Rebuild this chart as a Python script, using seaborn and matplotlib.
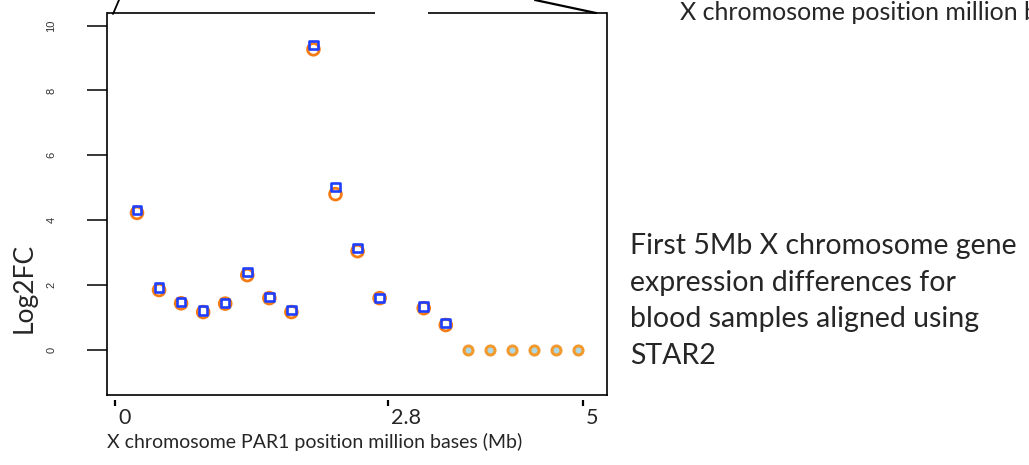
"""
PAR1 Log2FC scatter: first 5Mb of X chromosome, blood samples (STAR2).
"""
import numpy as np
import pandas as pd
import matplotlib
matplotlib.use("Agg")
import matplotlib.pyplot as plt
import matplotlib.transforms as mtransforms
from matplotlib.lines import Line2D
import seaborn as sns

# gene index along PAR1 (index 13 has no value)
gene_idx = [1, 2, 3, 4, 5, 6, 7, 8, 9, 10, 11, 12, 14, 15]
log2fc_a = [4.22, 1.84, 1.43, 1.16, 1.42, 2.30, 1.59, 1.16, 9.27, 4.80, 3.04, 1.59, 1.28, 0.76]
log2fc_b = [4.31, 1.91, 1.47, 1.20, 1.44, 2.39, 1.62, 1.22, 9.40, 5.02, 3.14, 1.60, 1.34, 0.82]
zero_idx = [16, 17, 18, 19, 20, 21]
zero_fc = [0, 0, 0, 0, 0, 0]

xtick_pos = [0, 12.4, 21.2]
xtick_labels = ["0", "2.8", "5"]
ytick_pos = [0, 2, 4, 6, 8, 10]

ORANGE = "#f57c14"
BLUE = "#1f3fff"

sns.set_style("white")
plt.rcParams["font.family"] = ["Lato", "DejaVu Sans"]

W, H = 1029, 465
fig = plt.figure(figsize=(W / 100, H / 100), dpi=100)
ax = fig.add_axes([107 / W, 1 - 395 / H, 500 / W, 382 / H])

df = pd.DataFrame({"idx": gene_idx, "a": log2fc_a, "b": log2fc_b})
zf = pd.DataFrame({"idx": zero_idx, "fc": zero_fc})

sns.scatterplot(data=df, x="idx", y="a", marker="o", s=72, color="none",
                edgecolor=ORANGE, linewidth=2.0, ax=ax, zorder=3)
sns.scatterplot(data=df, x="idx", y="b", marker="s", s=38, color="none",
                edgecolor=BLUE, linewidth=1.9, ax=ax, zorder=4)
sns.scatterplot(data=zf, x="idx", y="fc", marker="o", s=42, color="lightblue",
                edgecolor="#f39a2e", linewidth=2.2, ax=ax, zorder=3)

ax.set_xlim(-0.36, 22.31)
ax.set_ylim(-1.40, 10.39)

# box, with the gap in the top edge
for side in ["left", "right", "bottom"]:
    ax.spines[side].set_visible(True)
    ax.spines[side].set_color("black")
    ax.spines[side].set_linewidth(1.2)
ax.spines["top"].set_visible(False)
x_gap0 = (375 - 107) / 500
x_gap1 = (428 - 107) / 500
for seg in [(0, x_gap0), (x_gap1, 1)]:
    ax.plot(seg, [1, 1], transform=ax.transAxes, color="black", lw=1.2,
            clip_on=False, solid_capstyle="butt")

# y axis like R base graphics
ax.set_yticks(ytick_pos)
ax.set_yticklabels([str(v) for v in ytick_pos], rotation=90, va="center",
                   family="Liberation Sans", fontsize=8, color="#333333")
ax.tick_params(axis="y", direction="out", length=14.5, width=1.3, pad=22,
               left=True)
ax.set_ylabel("Log2FC", fontsize=19, labelpad=2)
ax.yaxis.set_label_coords(-0.14, 0.28)

# x axis labels were an overlay: short marks set a bit below the box
ax.set_xticks([])
ax.set_xlabel("")
sec = ax.secondary_xaxis(-0.013)
sec.spines["bottom"].set_visible(False)
sec.set_xticks(xtick_pos)
sec.set_xticklabels(xtick_labels, ha="left", fontsize=15.5)
sec.tick_params(axis="x", direction="out", length=4.5, width=1.6, pad=1,
                color="black")
shift = mtransforms.ScaledTranslation(3 / 100, 0, fig.dpi_scale_trans)
for lab in sec.get_xticklabels():
    lab.set_transform(lab.get_transform() + shift)

fig.text(107 / W, 1 - 442 / H, "X chromosome PAR1 position million bases (Mb)",
         fontsize=14, va="center", ha="left")

# text boxes from the slide
fig.text(680 / W, 1 - 12 / H, "X chromosome position million bases (Mb)",
         fontsize=18, va="center", ha="left")
blurb = ["First 5Mb X chromosome gene", "expression differences for",
         "blood samples aligned using", "STAR2"]
for k, line in enumerate(blurb):
    fig.text(630 / W, 1 - (246 + 36.5 * k) / H, line, fontsize=20.5,
             va="center", ha="left")

# zoom connector lines from the slide
fig.add_artist(Line2D([113 / W, 119 / W], [1 - 14 / H, 1.0],
                      color="black", lw=1.3))
fig.add_artist(Line2D([535 / W, 596 / W], [1.0, 1 - 13 / H],
                      color="black", lw=1.6))

fig.savefig("out.png", dpi=100)
